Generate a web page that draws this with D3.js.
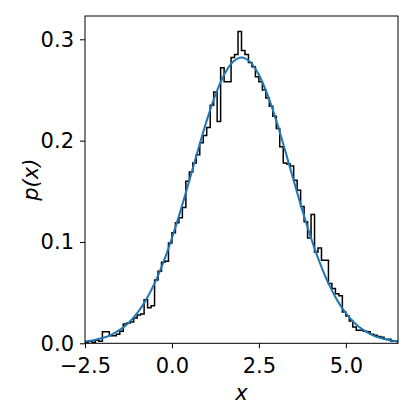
<!DOCTYPE html>
<html>
<head>
<meta charset="utf-8">
<script src="https://cdn.jsdelivr.net/npm/d3@7"></script>
<style>
  html, body { margin: 0; padding: 0; background: #fff; }
  svg { display: block; }
  text { font-family: "DejaVu Sans", sans-serif; fill: #000; }
</style>
</head>
<body>
<svg id="chart" width="415" height="415"></svg>
<script>
// ---- data ----
const binStart = -2.5;
const binWidth = 0.1;
const histValues = [
  0.001, 0.002, 0.001, 0.003, 0.002, 0.0115, 0.0115, 0.0075, 0.0075, 0.009,
  0.012, 0.019, 0.020, 0.021, 0.025, 0.028, 0.029, 0.043, 0.035, 0.037,
  0.0625, 0.071, 0.080, 0.081, 0.099, 0.109, 0.119, 0.124, 0.134, 0.160,
  0.169, 0.178, 0.186, 0.198, 0.205, 0.213, 0.235, 0.248, 0.219, 0.272,
  0.258, 0.258, 0.282, 0.285, 0.3076, 0.289, 0.285, 0.277, 0.273, 0.263,
  0.258, 0.250, 0.242, 0.234, 0.224, 0.212, 0.194, 0.178, 0.177, 0.175,
  0.161, 0.151, 0.135, 0.120, 0.104, 0.127, 0.090, 0.094, 0.082, 0.082,
  0.059, 0.054, 0.049, 0.047, 0.031, 0.027, 0.022, 0.016, 0.013, 0.013,
  0.012, 0.0115, 0.009, 0.008, 0.0066, 0.006, 0.004, 0.004, 0.002, 0.002
];
const curveX = [
  -2.5, -2.25, -2.0, -1.75, -1.5, -1.25, -1.0, -0.75, -0.5, -0.25,
  0.0, 0.25, 0.5, 0.75, 1.0, 1.25, 1.5, 1.75, 2.0, 2.25,
  2.5, 2.75, 3.0, 3.25, 3.5, 3.75, 4.0, 4.25, 4.5, 4.75,
  5.0, 5.25, 5.5, 5.75, 6.0, 6.25, 6.5
];
const curveY = [
  0.0018, 0.0031, 0.0052, 0.0084, 0.0132, 0.0201, 0.0297, 0.0426, 0.0591, 0.0796,
  0.1038, 0.1312, 0.1607, 0.1909, 0.2197, 0.2451, 0.2650, 0.2777, 0.2821, 0.2777,
  0.2650, 0.2451, 0.2197, 0.1909, 0.1607, 0.1312, 0.1038, 0.0796, 0.0591, 0.0426,
  0.0297, 0.0201, 0.0132, 0.0084, 0.0052, 0.0031, 0.0018
];
const xTicks = [-2.5, 0.0, 2.5, 5.0];
const xTickLabels = ["\u22122.5", "0.0", "2.5", "5.0"];
const yTicks = [0.0, 0.1, 0.2, 0.3];
const yTickLabels = ["0.0", "0.1", "0.2", "0.3"];
const xDomain = [-2.5, 6.5];
const yDomain = [0, 0.323];

// ---- layout ----
const L = 85, R = 398, T = 16, B = 343.3;
const FS = 21;
const svg = d3.select("#chart");
const x = d3.scaleLinear().domain(xDomain).range([L, R]);
const y = d3.scaleLinear().domain(yDomain).range([B, T]);

svg.append("clipPath").attr("id", "clip")
  .append("rect").attr("x", L).attr("y", T).attr("width", R - L).attr("height", B - T);

const plot = svg.append("g").attr("clip-path", "url(#clip)");

// histogram step outline
const pts = [[binStart, 0]];
histValues.forEach((v, i) => pts.push([binStart + i * binWidth, v]));
pts.push([binStart + histValues.length * binWidth, 0]);
plot.append("path")
  .attr("d", d3.line().x(d => x(d[0])).y(d => y(d[1])).curve(d3.curveStepAfter)(pts))
  .attr("fill", "none").attr("stroke", "#000").attr("stroke-width", 1.5)
  .attr("stroke-linejoin", "miter");

// pdf curve
plot.append("path")
  .attr("d", d3.line().x((d, i) => x(curveX[i])).y(d => y(d)).curve(d3.curveCatmullRom)(curveY))
  .attr("fill", "none").attr("stroke", "#1f77b4").attr("stroke-width", 2);

// axes
const xAxis = d3.axisBottom(x).tickValues(xTicks).tickFormat((d, i) => xTickLabels[i]).tickSize(5).tickPadding(10);
const yAxis = d3.axisLeft(y).tickValues(yTicks).tickFormat((d, i) => yTickLabels[i]).tickSize(5).tickPadding(6);

const gx = svg.append("g").attr("transform", `translate(0,${B})`).call(xAxis);
const gy = svg.append("g").attr("transform", `translate(${L},0)`).call(yAxis);
[gx, gy].forEach(g => {
  g.attr("font-size", FS).attr("font-family", "DejaVu Sans, sans-serif");
  g.select(".domain").remove();
  g.selectAll(".tick line").attr("stroke", "#000").attr("stroke-width", 1);
  g.selectAll(".tick text").style("font-size", FS + "px").attr("fill", "#000");
});

// frame
svg.append("rect").attr("x", L).attr("y", T).attr("width", R - L).attr("height", B - T)
  .attr("fill", "none").attr("stroke", "#000").attr("stroke-width", 1);

// labels
svg.append("text").attr("x", (L + R) / 2).attr("y", 400).attr("text-anchor", "middle")
  .style("font-size", FS + "px").attr("font-style", "italic").text("x");
svg.append("text").attr("transform", `translate(38,${(T + B) / 2}) rotate(-90)`)
  .attr("text-anchor", "middle").style("font-size", FS + "px").attr("font-style", "italic").text("p(x)");
</script>
</body>
</html>
